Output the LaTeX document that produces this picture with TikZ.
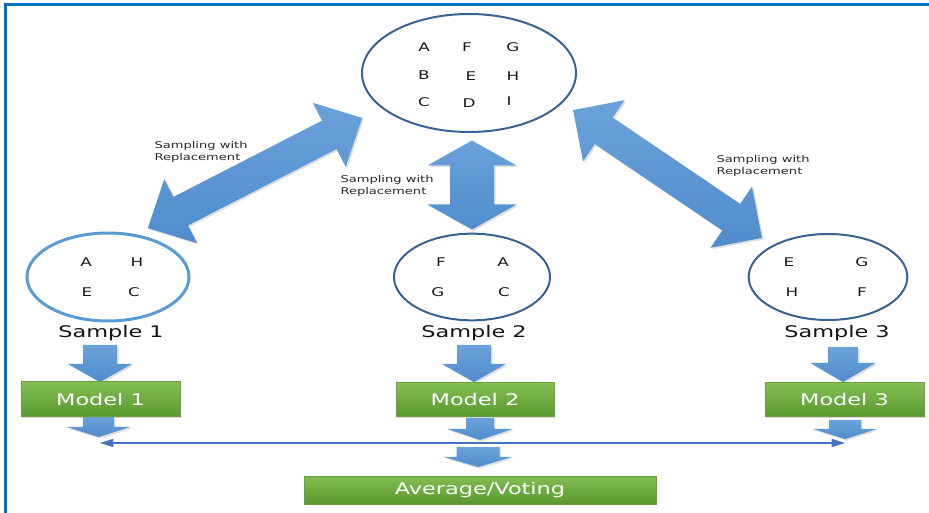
\documentclass[tikz,border=0pt]{standalone}
\usepackage{fontspec}
\setmainfont{DejaVu Sans}[FakeStretch=1.4]
\usetikzlibrary{shapes.geometric,shadows,arrows.meta}

\tikzset{every picture/.style={line width=0.75pt}}
\tikzset{
  pool/.style={ellipse, draw={rgb, 255:red, 56; green, 98; blue, 148}, line width=1.5pt, inner sep=0pt},
  letter/.style={inner sep=0.75pt, font=\fontsize{9}{10}\selectfont, text={rgb, 255:red, 25; green, 25; blue, 25}},
  samplename/.style={inner sep=0.75pt, font=\fontsize{12}{14}\selectfont, text={rgb, 255:red, 20; green, 20; blue, 20}},
  note/.style={inner sep=0.75pt, align=left, font=\fontsize{7}{9}\selectfont, text={rgb, 255:red, 40; green, 40; blue, 40}},
  modelbox/.style={rectangle, inner sep=0pt, draw={rgb, 255:red, 104; green, 160; blue, 64}, top color={rgb, 255:red, 132; green, 190; blue, 84}, bottom color={rgb, 255:red, 88; green, 152; blue, 46}, text=white, font=\fontsize{12}{14}\selectfont, drop shadow={opacity=0.3, shadow xshift=1pt, shadow yshift=-1pt}},
  blockarrow/.style={draw=none, top color={rgb, 255:red, 106; green, 162; blue, 218}, bottom color={rgb, 255:red, 80; green, 140; blue, 204}, drop shadow={opacity=0.25, shadow xshift=1.2pt, shadow yshift=-1.2pt}},
  vote/.style={{Triangle[length=10pt,width=6pt]}-{Triangle[length=10pt,width=6pt]}, color={rgb, 255:red, 68; green, 114; blue, 196}, line width=1.2pt},
  % pics are drawn with y pointing up
  pics/dblarrow/.style n args={4}{code={%
    \path[blockarrow] (-#1/2,0) -- (-#1/2+#4,#2/2) -- (-#1/2+#4,#3/2) -- (#1/2-#4,#3/2) -- (#1/2-#4,#2/2) -- (#1/2,0) -- (#1/2-#4,-#2/2) -- (#1/2-#4,-#3/2) -- (-#1/2+#4,-#3/2) -- (-#1/2+#4,-#2/2) -- cycle;}},
  pics/downarrow/.style n args={4}{code={%
    \path[blockarrow] (-#3/2,0) -- (#3/2,0) -- (#3/2,-#1+#4) -- (#2/2,-#1+#4) -- (0,-#1) -- (-#2/2,-#1+#4) -- (-#3/2,-#1+#4) -- cycle;}},
}

\begin{document}
\begin{tikzpicture}[x=0.75pt,y=0.75pt,yscale=-1,xscale=1]
\useasboundingbox (0,0) rectangle (929,513);

%Frame: top and left edge
\draw [color={rgb, 255:red, 0; green, 112; blue, 192}, line width=2.25pt] (5,513) -- (5,5) -- (929,5);

%Shape: Ellipse, whole data set
\node [pool, minimum width=160.5pt, minimum height=88.5pt] (top) at (469,73) {};
%Shape: Ellipse, samples
\node [pool, draw={rgb, 255:red, 91; green, 155; blue, 213}, line width=2.25pt, minimum width=121.5pt, minimum height=66pt] (s1) at (108,277) {};
\node [pool, minimum width=117pt, minimum height=65pt] (s2) at (472,277) {};
\node [pool, minimum width=119pt, minimum height=64.5pt] (s3) at (828,277) {};

%Block arrows: sampling with replacement
\pic at (255,173) [rotate=27.2] {dblarrow={241}{72}{32}{37}};
\pic at (472,185) [rotate=90] {dblarrow={89}{89}{44}{25}};
\pic at (667.5,174) [rotate=-34.1] {dblarrow={228}{74}{32}{37}};

%Block arrows: sample to model
\pic at (100,345) {downarrow={37}{64}{34}{18}};
\pic at (474,345) {downarrow={37}{64}{34}{18}};
\pic at (843,347) {downarrow={35}{65}{30}{19}};
%Block arrows: model to vote
\pic at (98.5,417) {downarrow={20}{64}{31}{10}};
\pic at (480,418) {downarrow={22}{65}{28}{11}};
\pic at (845,420) {downarrow={19}{64}{32}{10}};
\pic at (478,447) {downarrow={20}{68}{43}{10}};

%Straight Lines: collect the models
\coordinate (vl) at (100,443);
\coordinate (vr) at (845,443);
\draw [vote] (vl) -- (vr);

%Shape: Rectangle, models
\node [modelbox, minimum width=119.25pt, minimum height=26.25pt] (m1) at (100.5,399.5) {Model 1};
\node [modelbox, minimum width=118.5pt, minimum height=25.5pt] (m2) at (475,400) {Model 2};
\node [modelbox, minimum width=119.25pt, minimum height=25.5pt] (m3) at (844.5,400) {Model 3};
\node [modelbox, minimum width=264pt, minimum height=21pt] (avg) at (480,490) {Average/Voting};

% Text Node
\node [letter] (tA) at (424,47) {A};
\node [letter] (tF) at (467,47) {F};
\node [letter] (tG) at (513,47) {G};
\node [letter] (tB) at (424,75) {B};
\node [letter] (tE) at (471,76) {E};
\node [letter] (tH) at (513,76) {H};
\node [letter] (tC) at (424,102) {C};
\node [letter] (tD) at (469,103) {D};
\node [letter] (tI) at (509,101) {I};
% Text Node
\node [letter] (s1A) at (86,262) {A};
\node [letter] (s1H) at (137,262) {H};
\node [letter] (s1E) at (87,292) {E};
\node [letter] (s1C) at (134,292) {C};
% Text Node
\node [letter] (s2F) at (441,262) {F};
\node [letter] (s2A) at (503,262) {A};
\node [letter] (s2G) at (438,292) {G};
\node [letter] (s2C) at (504,292) {C};
% Text Node
\node [letter] (s3E) at (789,262) {E};
\node [letter] (s3G) at (862,262) {G};
\node [letter] (s3H) at (792,292) {H};
\node [letter] (s3F) at (862,292) {F};

% Text Node
\node [samplename] (s1name) at (111,333) {Sample 1};
\node [samplename] (s2name) at (474,333) {Sample 2};
\node [samplename] (s3name) at (837,333) {Sample 3};

% Text Node
\node [note, anchor=north west] (lab1) at (153,140) {Sampling with\\Replacement};
\node [note, anchor=north west] (lab2) at (339,174) {Sampling with\\Replacement};
\node [note, anchor=north west] (lab3) at (715,154) {Sampling with\\Replacement};
\end{tikzpicture}
\end{document}
